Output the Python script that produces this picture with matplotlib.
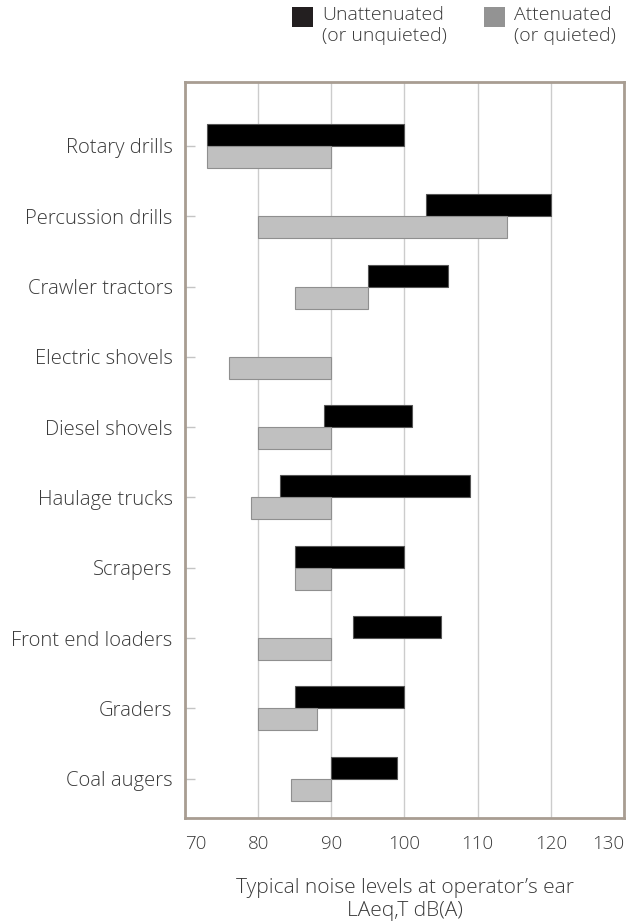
import matplotlib
matplotlib.use('Agg')
import matplotlib.pyplot as plt
from matplotlib.patches import Rectangle
import numpy as np

categories = ["Rotary drills", "Percussion drills", "Crawler tractors", "Electric shovels",
              "Diesel shovels", "Haulage trucks", "Scrapers", "Front end loaders",
              "Graders", "Coal augers"]
unatt_low = [73, 103, 95, np.nan, 89, 83, 85, 93, 85, 90]
unatt_high = [100, 120, 106, np.nan, 101, 109, 100, 105, 100, 99]
att_low = [73, 80, 85, 76, 80, 79, 85, 80, 80, 84.5]
att_high = [90, 114, 95, 90, 90, 90, 90, 90, 88, 90]
xticks = [70, 80, 90, 100, 110, 120, 130]
legend_labels = ["Unattenuated\n(or unquieted)", "Attenuated\n(or quieted)"]
xlabel = "Typical noise levels at operator\u2019s ear\nLAeq,T dB(A)"

plt.rcParams['font.family'] = ['Open Sans', 'DejaVu Sans']
plt.rcParams['font.weight'] = 'light'
TXT = '#3a3a3a'

W, H = 638, 924
fig = plt.figure(figsize=(W / 100, H / 100), dpi=100)
ax = fig.add_axes([185 / W, 1 - 818 / H, (624 - 185) / W, (818 - 82) / H])

y = np.arange(len(categories))
ul = np.array(unatt_low, float); uh = np.array(unatt_high, float)
al = np.array(att_low, float); ah = np.array(att_high, float)
bh = 0.313
m = ~np.isnan(ul)
ax.barh(y[m] - bh / 2, uh[m] - ul[m], left=ul[m], height=bh,
        color='black', edgecolor='#555555', linewidth=0.8, zorder=3)
ax.barh(y + bh / 2, ah - al, left=al, height=bh,
        color='#c0c0c0', edgecolor='#8f8f8f', linewidth=0.8, zorder=3)

ax.set_xlim(70, 130)
ax.set_ylim(9.56, -0.91)
ax.set_xticks(xticks)
ax.set_xticklabels([str(t) for t in xticks])
ax.set_yticks(y)
ax.set_yticklabels(categories)
ax.set_axisbelow(True)
ax.grid(axis='x', color='#cccccc', linewidth=1)
for s in ax.spines.values():
    s.set_color('#a89d92')
    s.set_linewidth(2)
    s.set_zorder(5)
ax.tick_params(axis='x', length=0, pad=12, labelsize=13.5, labelcolor=TXT)
ax.tick_params(axis='y', direction='in', length=7.5, width=1, color='#c4c4c4',
               pad=9, labelsize=14.6, labelcolor=TXT)
xl = ax.get_xticklabels()
xl[0].set_ha('left')
xl[-1].set_ha('right')
ax.set_xlabel(xlabel, fontsize=15, color=TXT, labelpad=18, linespacing=1.2,
              fontweight='light')

# legend
for x0, col, lab in [(292, '#231f20', legend_labels[0]), (484, '#939393', legend_labels[1])]:
    fig.add_artist(Rectangle((x0 / W, 1 - 27 / H), 21 / W, 20 / H,
                             transform=fig.transFigure, facecolor=col, edgecolor='none'))
    fig.text((x0 + 30) / W, 1 - 6 / H, lab, ha='left', va='top', fontsize=14,
             color=TXT, linespacing=1.2, fontweight='light')

fig.savefig('out.png', dpi=100)
